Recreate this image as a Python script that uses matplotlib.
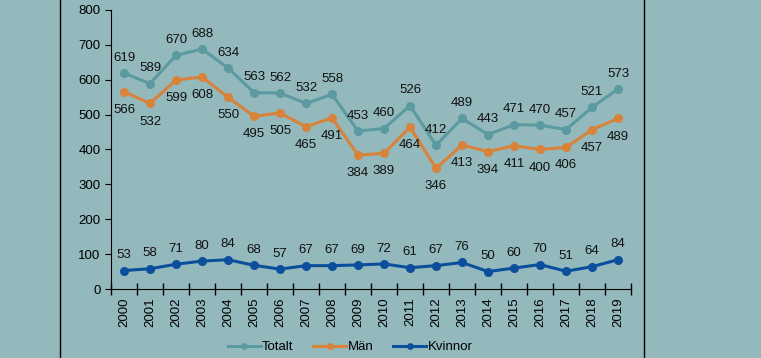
import numpy as np
import matplotlib.pyplot as plt
from matplotlib.lines import Line2D

plt.rcParams['font.family'] = ['Liberation Sans', 'DejaVu Sans']

years = [str(y) for y in range(2000, 2020)]
totalt = [619, 589, 670, 688, 634, 563, 562, 532, 558, 453, 460, 526, 412, 489, 443, 471, 470, 457, 521, 573]
man = [566, 532, 599, 608, 550, 495, 505, 465, 491, 384, 389, 464, 346, 413, 394, 411, 400, 406, 457, 489]
kvinnor = [53, 58, 71, 80, 84, 68, 57, 67, 67, 69, 72, 61, 67, 76, 50, 60, 70, 51, 64, 84]

bg = '#93b9bd'
fig = plt.figure(figsize=(7.61, 3.58), dpi=100, facecolor=bg)
ax = fig.add_axes([111 / 761, 1 - 289 / 358, 520 / 761, 279 / 358])
ax.set_facecolor(bg)

x = np.arange(len(years))
series = [
    ('Totalt', totalt, '#5b9aa0', 11),
    ('Män', man, '#d9823a', -13),
    ('Kvinnor', kvinnor, '#0b4f9c', 11),
]
for name, vals, col, off in series:
    ax.plot(x, vals, color=col, lw=2.2, marker='o', ms=5.5, label=name)
    for xi, v in zip(x, vals):
        ax.annotate(str(v), (xi, v), xytext=(0, off), textcoords='offset points',
                    ha='center', va='center', fontsize=9.5, color='#111111')

ax.set_xlim(-0.5, len(years) - 0.5)
ax.set_ylim(0, 800)
ax.set_yticks(range(0, 801, 100))
ax.set_xticks(np.arange(len(years) + 1) - 0.5, minor=False)
ax.set_xticklabels([])
ax.set_xticks(x, minor=True)
ax.set_xticklabels(years, minor=True, rotation=90)
ax.tick_params(axis='x', which='major', direction='inout', length=8, width=1, color='black')
ax.tick_params(axis='x', which='minor', length=0, pad=6, labelsize=9.5)
ax.tick_params(axis='y', direction='out', length=4, labelsize=9.5)
for s in ['top', 'right']:
    ax.spines[s].set_visible(False)

fig.legend(loc='center', bbox_to_anchor=(350 / 761, 1 - 347 / 358), ncol=3, frameon=False,
           fontsize=9.5, handlelength=2.5, handletextpad=0.1, columnspacing=1.5,
           markerscale=0.7, borderaxespad=0)

fig.add_artist(Line2D([60 / 761, 60 / 761], [0, 1], color='black', lw=1))
fig.add_artist(Line2D([644 / 761, 644 / 761], [0, 1], color='black', lw=1))

fig.savefig('out.png', dpi=100, facecolor=bg)
